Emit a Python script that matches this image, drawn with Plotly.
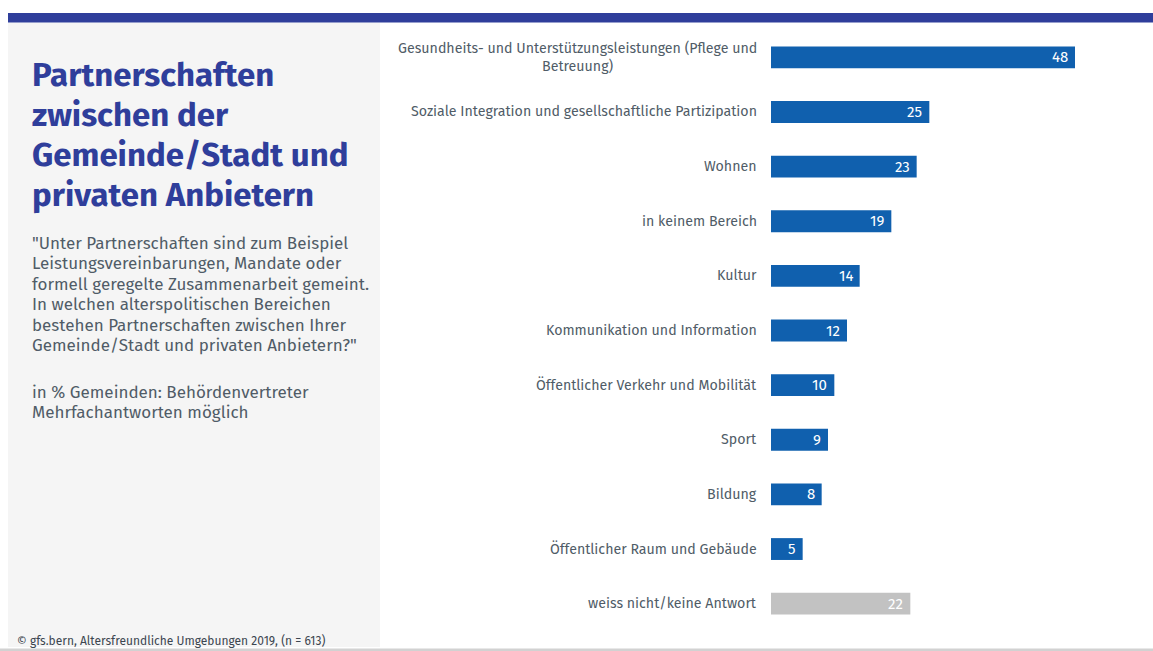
import plotly.graph_objects as go

# Survey results, in % of municipalities (multiple answers possible)
categories = [
    "Gesundheits- und Unterstützungsleistungen (Pflege und<br>Betreuung)",
    "Soziale Integration und gesellschaftliche Partizipation",
    "Wohnen",
    "in keinem Bereich",
    "Kultur",
    "Kommunikation und Information",
    "Öffentlicher Verkehr und Mobilität",
    "Sport",
    "Bildung",
    "Öffentlicher Raum und Gebäude",
    "weiss nicht/keine Antwort",
]
values = [48, 25, 23, 19, 14, 12, 10, 9, 8, 5, 22]

title_lines = [
    "Partnerschaften",
    "zwischen der",
    "Gemeinde/Stadt und",
    "privaten Anbietern",
]
question_lines = [
    '"Unter Partnerschaften sind zum Beispiel',
    "Leistungsvereinbarungen, Mandate oder",
    "formell geregelte Zusammenarbeit gemeint.",
    "In welchen alterspolitischen Bereichen",
    "bestehen Partnerschaften zwischen Ihrer",
    'Gemeinde/Stadt und privaten Anbietern?"',
]
note_lines = [
    "in % Gemeinden: Behördenvertreter",
    "Mehrfachantworten möglich",
]
source = "© gfs.bern, Altersfreundliche Umgebungen 2019, (n = 613)"

BLUE = "#1060ae"
GREY_BAR = "#c2c2c2"
TITLE_BLUE = "#2f3e9b"
TEXT = "#505c67"
FONT = "Fira Sans, Roboto, sans-serif"

bar_colors = [GREY_BAR if c.startswith("weiss") else BLUE for c in categories]

W, H = 1153, 651
ML, MR, MT, MB = 771, 2, 30, 20
PW, PH = W - ML - MR, H - MT - MB


def px(x):
    return (x - ML) / PW


def py(y):
    return (H - MB - y) / PH


fig = go.Figure(
    go.Bar(
        x=values,
        y=categories,
        orientation="h",
        marker=dict(color=bar_colors, line=dict(width=0)),
        hoverinfo="skip",
    )
)

annotations = []
# category labels, centred line by line, to the left of the bars
for c in categories:
    annotations.append(dict(
        x=0, y=c, xref="x", yref="y", text=c, showarrow=False,
        xanchor="right", yanchor="middle", align="center", xshift=-12,
        font=dict(family=FONT, size=14.2, color=TEXT),
    ))

# value labels, right-aligned just inside the end of each bar
for c, v in zip(categories, values):
    annotations.append(dict(
        x=v, y=c, xref="x", yref="y", text=str(v), showarrow=False,
        xanchor="right", yanchor="middle", xshift=-5, yshift=0,
        font=dict(family=FONT, size=15, color="white"),
    ))


def panel_line(text, y, size, color, bold=False):
    return dict(
        x=px(30), y=py(y), xref="paper", yref="paper",
        text=f"<b>{text}</b>" if bold else text,
        showarrow=False, xanchor="left", yanchor="middle", align="left",
        font=dict(family=FONT, size=size, color=color),
    )


# left info panel: title, question wording, base note
for i, t in enumerate(title_lines):
    annotations.append(panel_line(t, 75 + 40 * i, 33, TITLE_BLUE, bold=True))
for i, t in enumerate(question_lines):
    annotations.append(panel_line(t, 243 + 20.5 * i, 17, TEXT))
for i, t in enumerate(note_lines):
    annotations.append(panel_line(t, 392 + 20.5 * i, 17, TEXT))

annotations.append(dict(
    x=px(15), y=py(641), xref="paper", yref="paper",
    text=source,
    showarrow=False, xanchor="left", yanchor="middle", align="left",
    font=dict(family=FONT, size=12, color="#3c4650"),
))

shapes = [
    # info panel background
    dict(type="rect", xref="paper", yref="paper", layer="below",
         x0=px(8), x1=px(380), y0=py(647), y1=py(22.5),
         fillcolor="#f5f5f5", line=dict(width=0)),
    # header band
    dict(type="rect", xref="paper", yref="paper", layer="below",
         x0=px(8), x1=px(1153), y0=py(22.5), y1=py(13),
         fillcolor="#2f3e9b", line=dict(width=0)),
    # footer rule
    dict(type="rect", xref="paper", yref="paper", layer="below",
         x0=px(0), x1=px(1153), y0=py(651), y1=py(648.5),
         fillcolor="#d2d2d2", line=dict(width=0)),
]

fig.update_layout(
    width=W, height=H,
    margin=dict(l=ML, r=MR, t=MT, b=MB, autoexpand=False),
    paper_bgcolor="white", plot_bgcolor="white",
    showlegend=False,
    bargap=0.6,
    xaxis=dict(range=[0, 60], visible=False, fixedrange=True),
    yaxis=dict(categoryorder="array", categoryarray=categories,
               autorange="reversed", showticklabels=False,
               showgrid=False, zeroline=False, fixedrange=True),
    annotations=annotations,
    shapes=shapes,
)

fig.write_html("out.html", config={"displayModeBar": False})
